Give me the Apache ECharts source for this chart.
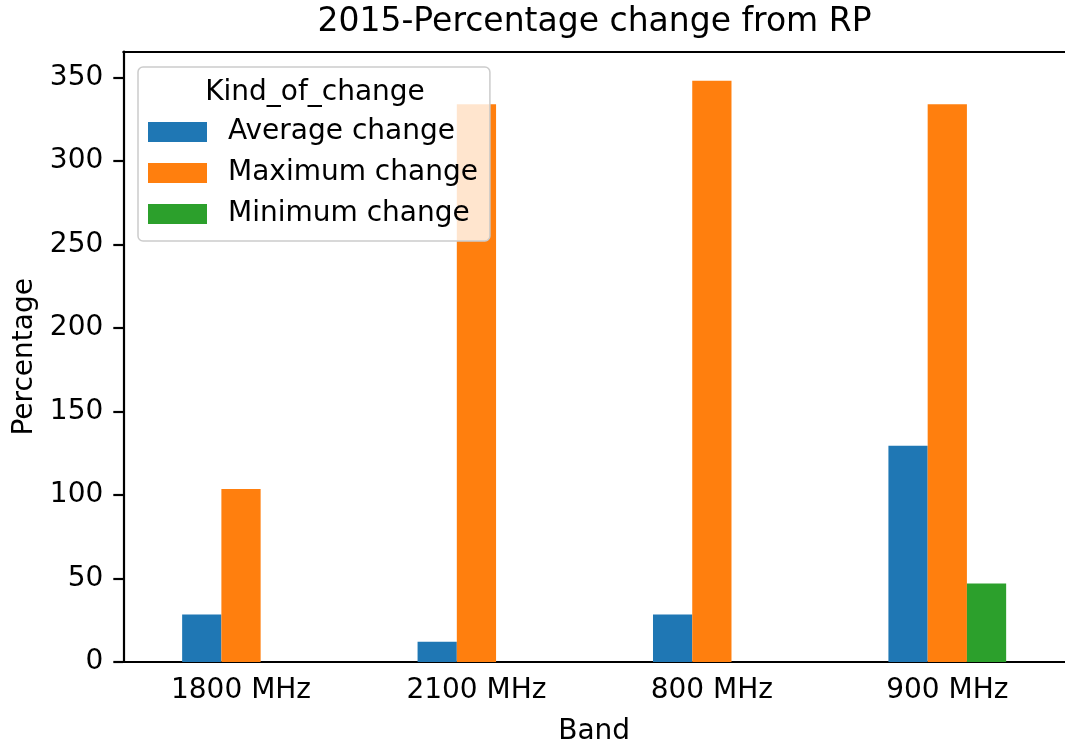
<!DOCTYPE html>
<html>
<head>
<meta charset="utf-8">
<title>2015-Percentage change from RP</title>
<script src="https://cdn.jsdelivr.net/npm/echarts@6/dist/echarts.min.js"></script>
<style>
    html, body { margin: 0; padding: 0; background: #fff; }
    #chart { width: 1065px; height: 751px; }
</style>
</head>
<body>
<div id="chart"></div>
<script>
// 数据
var bands = ['1800 MHz', '2100 MHz', '800 MHz', '900 MHz'];
var avg_change = [28.4, 12.1, 28.4, 129.4];
var max_change = [103.6, 334, 348, 334];
var min_change = [0, 0, 0, 47];
var y_ticks = [0, 50, 100, 150, 200, 250, 300, 350];

var FONT = 'DejaVu Sans';
var chart = echarts.init(document.getElementById('chart'));

var option = {
    animation: false,
    backgroundColor: '#fff',
    textStyle: { fontFamily: FONT, color: '#000' },
    title: [
        {
            text: '2015-Percentage change from RP',
            left: 594.5,
            top: 6,
            padding: 0,
            textAlign: 'center',
            textStyle: { fontFamily: FONT, fontSize: 33, fontWeight: 'normal', color: '#000', lineHeight: 33 }
        },
        {
            // 图例标题
            text: 'Kind_of_change',
            left: 315,
            top: 79,
            padding: 0,
            textAlign: 'center',
            textStyle: { fontFamily: FONT, fontSize: 28, fontWeight: 'normal', color: '#000', lineHeight: 28 }
        }
    ],
    legend: {
        orient: 'vertical',
        left: 138,
        top: 67,
        padding: [51, 12, 13, 10],
        backgroundColor: 'rgba(255,255,255,0.8)',
        borderColor: '#cccccc',
        borderWidth: 1.5,
        borderRadius: 5,
        icon: 'rect',
        itemWidth: 59,
        itemHeight: 20,
        itemGap: 13,
        textStyle: { fontFamily: FONT, fontSize: 28, color: '#000', lineHeight: 28, padding: [0, 0, 0, 16] },
        data: ['Average change', 'Maximum change', 'Minimum change']
    },
    grid: {
        left: 123.3,
        right: -1.2,
        top: 51.7,
        bottom: 87.7
    },
    xAxis: [
        {
            type: 'category',
            data: bands,
            name: 'Band',
            nameLocation: 'middle',
            nameGap: 56,
            nameTextStyle: { fontFamily: FONT, fontSize: 28, color: '#000' },
            axisLine: { lineStyle: { color: '#000', width: 2.2 } },
            axisTick: { alignWithLabel: true, length: 10, lineStyle: { color: '#000', width: 2.2 } },
            axisLabel: { fontFamily: FONT, fontSize: 28, color: '#000', margin: 15 },
            splitLine: { show: false }
        },
        {
            // 上边框
            type: 'category',
            data: bands,
            position: 'top',
            axisLine: { show: true, lineStyle: { color: '#000', width: 2.2 } },
            axisTick: { show: false },
            axisLabel: { show: false },
            splitLine: { show: false }
        }
    ],
    yAxis: {
        type: 'value',
        min: 0,
        max: 365.4,
        interval: 50,
        name: 'Percentage',
        nameLocation: 'middle',
        nameGap: 84,
        nameTextStyle: { fontFamily: FONT, fontSize: 28, color: '#000' },
        axisLine: { show: true, lineStyle: { color: '#000', width: 2.2 } },
        axisTick: { show: true, length: 10, customValues: y_ticks, lineStyle: { color: '#000', width: 2.2 } },
        axisLabel: { fontFamily: FONT, fontSize: 28, color: '#000', margin: 20, customValues: y_ticks },
        splitLine: { show: false }
    },
    series: [
        { name: 'Average change', type: 'bar', data: avg_change, barWidth: '16.67%', barGap: '0%', itemStyle: { color: '#1f77b4' } },
        { name: 'Maximum change', type: 'bar', data: max_change, barWidth: '16.67%', barGap: '0%', itemStyle: { color: '#ff7f0e' } },
        { name: 'Minimum change', type: 'bar', data: min_change, barWidth: '16.67%', barGap: '0%', itemStyle: { color: '#2ca02c' } }
    ]
};
chart.setOption(option);
</script>
</body>
</html>
